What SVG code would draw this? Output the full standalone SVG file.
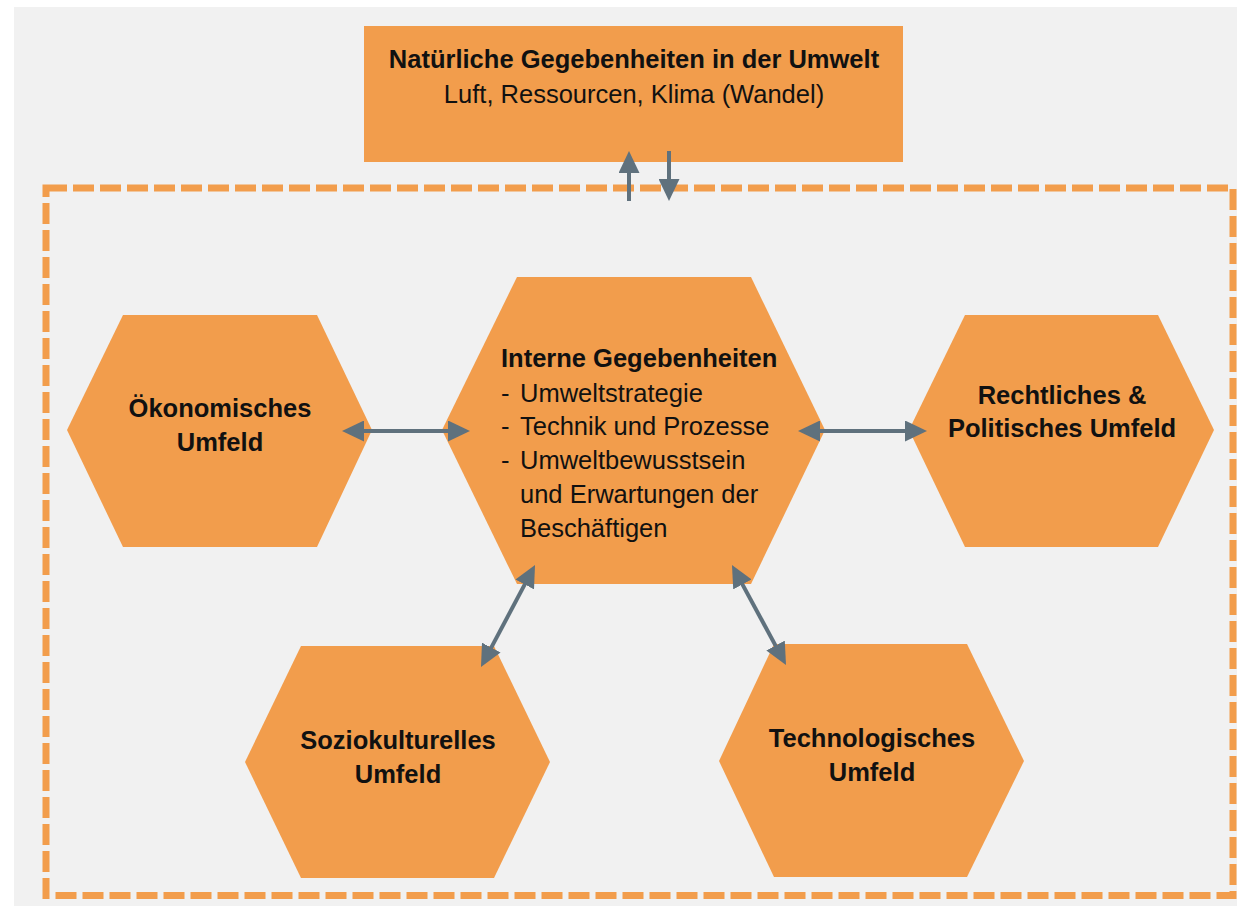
<svg xmlns="http://www.w3.org/2000/svg" width="1237" height="906" viewBox="0 0 1237 906">
  <style>
    .node { fill: #F29D4C; }
    .title { font-family: "Liberation Sans", Arial, sans-serif; font-size: 25.5px; font-weight: bold; fill: #111111; }
    .body { font-family: "Liberation Sans", Arial, sans-serif; font-size: 25.5px; fill: #111111; }
    .mid { text-anchor: middle; }
    .link { stroke: #5F717D; stroke-width: 4; fill: none; }
  </style>
  <defs>
    <marker id="head" viewBox="0 0 22 21" refX="10" refY="10.5" markerWidth="22" markerHeight="21" markerUnits="userSpaceOnUse" orient="auto-start-reverse">
      <path d="M0,0 L22,10.5 L0,21 Z" fill="#5F717D"/>
    </marker>
  </defs>

  <!-- page -->
  <rect x="0" y="0" width="1237" height="906" fill="#FFFFFF"/>
  <rect x="14" y="7" width="1223" height="899" fill="#F1F1F1"/>

  <!-- company boundary -->
  <rect id="boundary" x="46" y="188" width="1187" height="707.5" fill="none" stroke="#F29D4C" stroke-width="7" stroke-dasharray="21 6"/>

  <!-- natural environment -->
  <g id="natur">
    <rect class="node" x="364" y="26" width="539" height="136"/>
    <text class="title mid" x="634" y="68">Natürliche Gegebenheiten in der Umwelt</text>
    <text class="body mid" x="634" y="103">Luft, Ressourcen, Klima (Wandel)</text>
  </g>

  <!-- internal factors -->
  <g id="intern">
    <polygon class="node" points="442,430 517,277 751,277 825,430 751,584 517,584"/>
    <text class="title" x="501" y="367">Interne Gegebenheiten</text>
    <text class="body" x="501" y="402">-</text>
    <text class="body" x="520" y="402">Umweltstrategie</text>
    <text class="body" x="501" y="435">-</text>
    <text class="body" x="520" y="435">Technik und Prozesse</text>
    <text class="body" x="501" y="469">-</text>
    <text class="body" x="520" y="469">Umweltbewusstsein</text>
    <text class="body" x="520" y="503">und Erwartungen der</text>
    <text class="body" x="520" y="537">Beschäftigen</text>
  </g>

  <!-- economic -->
  <g id="oekonomisch">
    <polygon class="node" points="67,430 123,315 317,315 372,430 317,547 123,547"/>
    <text class="title mid" x="220" y="417">Ökonomisches</text>
    <text class="title mid" x="220" y="451">Umfeld</text>
  </g>

  <!-- legal & political -->
  <g id="rechtlich">
    <polygon class="node" points="909,430 965,315 1158,315 1214,430 1158,547 965,547"/>
    <text class="title mid" x="1062" y="404">Rechtliches &amp;</text>
    <text class="title mid" x="1062" y="437">Politisches Umfeld</text>
  </g>

  <!-- sociocultural -->
  <g id="soziokulturell">
    <polygon class="node" points="245,762 301,646 494,646 550,762 494,878 301,878"/>
    <text class="title mid" x="398" y="749">Soziokulturelles</text>
    <text class="title mid" x="398" y="783">Umfeld</text>
  </g>

  <!-- technological -->
  <g id="technologisch">
    <polygon class="node" points="719,761 774,644 967,644 1024,761 967,877 774,877"/>
    <text class="title mid" x="872" y="747">Technologisches</text>
    <text class="title mid" x="872" y="781">Umfeld</text>
  </g>

  <!-- connectors -->
  <g id="connectors">
    <line class="link" x1="629" y1="201" x2="629" y2="163" marker-end="url(#head)"/>
    <line class="link" x1="669" y1="151" x2="669" y2="189" marker-end="url(#head)"/>
    <line class="link" x1="354" y1="431" x2="458" y2="431" marker-start="url(#head)" marker-end="url(#head)"/>
    <line class="link" x1="810" y1="431" x2="915" y2="431" marker-start="url(#head)" marker-end="url(#head)"/>
    <line class="link" x1="529.4" y1="575.6" x2="486.6" y2="656.4" marker-start="url(#head)" marker-end="url(#head)"/>
    <line class="link" x1="737.7" y1="575.6" x2="780.3" y2="654.4" marker-start="url(#head)" marker-end="url(#head)"/>
  </g>
</svg>
